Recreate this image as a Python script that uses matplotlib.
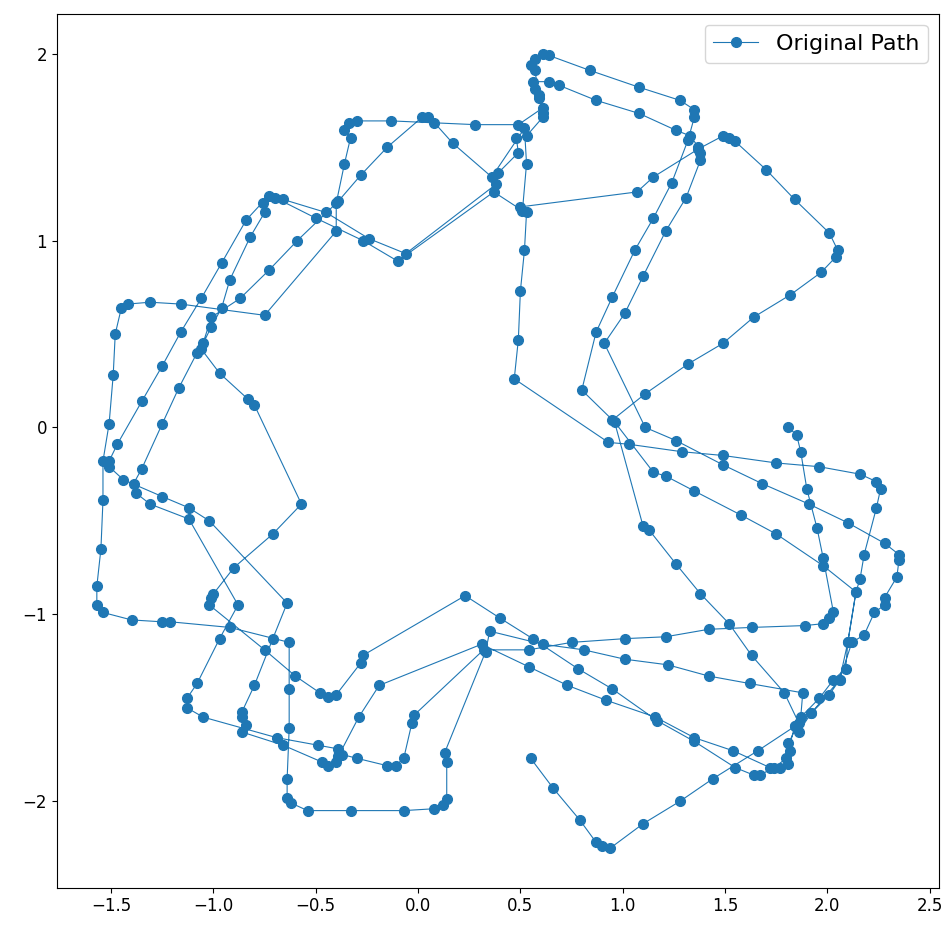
import matplotlib
matplotlib.use("Agg")
import matplotlib.pyplot as plt

# Path pieces (data units), in drawing order
seg01 = [(0.55,-1.77),(0.66,-1.93),(0.79,-2.10),(0.87,-2.22),(0.90,-2.24),(0.94,-2.25),(1.10,-2.12),(1.28,-2.00),(1.44,-1.88),(1.66,-1.73),(1.84,-1.60)]
seg02 = [(1.86,-1.63),(1.92,-1.53),(2.01,-1.43),(2.06,-1.35),(2.12,-1.15),(2.18,-1.11),(2.23,-0.99),(2.28,-0.95),(2.28,-0.91),(2.34,-0.80),(2.35,-0.71),(2.35,-0.68),(2.28,-0.62),(2.10,-0.51),(1.91,-0.41),(1.68,-0.30),(1.49,-0.20),(1.26,-0.07),(1.11,0.00),(0.91,0.45),(1.01,0.61),(1.10,0.81),(1.21,1.05),(1.31,1.23),(1.38,1.43),(1.38,1.47),(1.37,1.50)]
seg03 = [(1.33,1.56),(1.26,1.59),(1.08,1.68),(0.87,1.75),(0.69,1.83),(0.64,1.85)]
seg04 = [(0.56,1.85),(0.57,1.81),(0.59,1.78),(0.59,1.76),(0.61,1.71),(0.49,1.62)]
seg05 = [(0.28,1.62),(-0.13,1.64),(-0.30,1.64),(-0.34,1.63),(-0.36,1.59),(-0.33,1.55),(-0.36,1.41),(-0.40,1.20),(-0.40,1.05),(-0.75,0.60),(-1.16,0.66),(-1.31,0.67),(-1.42,0.66),(-1.45,0.64),(-1.48,0.50),(-1.49,0.28),(-1.51,0.02),(-1.54,-0.18),(-1.54,-0.39),(-1.55,-0.65),(-1.57,-0.85),(-1.57,-0.95),(-1.54,-0.99),(-1.40,-1.03),(-1.25,-1.04),(-1.21,-1.04),(-0.92,-1.07),(-0.63,-1.15),(-0.63,-1.40),(-0.63,-1.61),(-0.64,-1.88),(-0.64,-1.98),(-0.62,-2.01),(-0.54,-2.05),(-0.33,-2.05),(-0.07,-2.05),(0.08,-2.04),(0.12,-2.02),(0.14,-1.99),(0.14,-1.79),(0.13,-1.74),(0.33,-1.20)]
seg06 = [(0.35,-1.09),(0.61,-1.16),(0.81,-1.19),(1.01,-1.24),(1.22,-1.27),(1.42,-1.33),(1.62,-1.37),(1.88,-1.42)]
seg07 = [(1.87,-1.55),(1.96,-1.45),(2.03,-1.35),(2.09,-1.29),(2.10,-1.15),(2.14,-0.88),(2.16,-0.81),(2.18,-0.68),(2.24,-0.43),(2.26,-0.33),(2.24,-0.29),(2.16,-0.25),(1.96,-0.21),(1.75,-0.19),(1.49,-0.15),(1.29,-0.13),(1.03,-0.09),(0.93,-0.08),(0.47,0.26),(0.49,0.47),(0.50,0.73),(0.52,0.95),(0.53,1.15),(0.50,1.18)]
seg08 = [(1.07,1.26),(1.15,1.34),(1.37,1.49)]
seg09 = [(1.49,1.56),(1.52,1.55),(1.55,1.53),(1.70,1.38),(1.84,1.22),(2.01,1.04),(2.05,0.95),(2.04,0.91),(1.97,0.83),(1.82,0.71),(1.64,0.59),(1.49,0.45),(1.32,0.34),(1.11,0.18),(0.95,0.04)]
seg10 = [(0.80,0.20),(0.87,0.51),(0.95,0.70),(1.06,0.95),(1.15,1.12),(1.24,1.31),(1.32,1.54),(1.35,1.66),(1.35,1.70),(1.28,1.75),(1.08,1.82),(0.84,1.91),(0.64,1.99),(0.61,2.00),(0.57,1.97),(0.55,1.94),(0.57,1.91)]
seg11 = [(0.61,1.68),(0.61,1.66),(0.53,1.56)]
seg12 = [(0.48,1.55),(0.49,1.47),(0.39,1.36)]
seg13 = [(0.38,1.30),(-0.06,0.93),(-0.24,1.01),(-0.45,1.15),(-0.66,1.22)]
seg14 = [(-0.73,1.24),(-0.84,1.11),(-0.96,0.88),(-1.06,0.69),(-1.16,0.51),(-1.25,0.33),(-1.35,0.14),(-1.47,-0.09),(-1.51,-0.18),(-1.51,-0.21),(-1.44,-0.28),(-1.25,-0.37),(-1.12,-0.43),(-1.02,-0.50),(-0.64,-0.94),(-0.71,-1.13),(-0.80,-1.38),(-0.86,-1.52),(-0.86,-1.55),(-0.84,-1.59),(-0.86,-1.63),(-0.66,-1.70),(-0.47,-1.79),(-0.44,-1.81),(-0.40,-1.79),(-0.39,-1.76),(-0.29,-1.55),(-0.19,-1.38),(0.31,-1.16)]
seg15 = [(0.54,-1.28),(0.73,-1.38),(0.92,-1.46),(1.16,-1.55),(1.35,-1.66),(1.54,-1.73),(1.72,-1.82),(1.77,-1.82),(1.81,-1.80),(1.82,-1.73),(1.81,-1.69),(1.86,-1.58)]
seg16 = [(1.79,-1.42),(1.63,-1.22),(1.52,-1.05),(1.38,-0.89),(1.26,-0.73),(1.13,-0.55),(1.10,-0.53),(0.96,0.03)]
seg17 = [(1.15,-0.24),(1.21,-0.26),(1.35,-0.34),(1.58,-0.47),(1.75,-0.57),(1.98,-0.74),(2.14,-0.88),(2.10,-1.15),(2.06,-1.35),(1.92,-1.53),(1.84,-1.60)]
seg18 = [(1.80,-1.77),(1.74,-1.82),(1.67,-1.86),(1.64,-1.86),(1.55,-1.82),(1.35,-1.68),(1.17,-1.57),(0.95,-1.40),(0.78,-1.29),(0.56,-1.13),(0.40,-1.02),(0.23,-0.90),(-0.27,-1.22),(-0.28,-1.26),(-0.40,-1.43),(-0.44,-1.44),(-0.48,-1.42),(-0.60,-1.33),(-0.75,-1.19),(-1.02,-0.95),(-1.01,-0.91),(-1.00,-0.89),(-0.90,-0.75),(-0.71,-0.57),(-0.57,-0.41),(-0.80,0.12),(-0.83,0.15),(-0.97,0.29),(-1.06,0.42)]
seg19 = [(-1.01,0.59),(-0.87,0.69),(-0.73,0.84),(-0.59,1.00),(-0.39,1.21),(-0.28,1.35),(-0.15,1.50),(0.02,1.66),(0.05,1.66),(0.08,1.63),(0.17,1.52),(0.36,1.34)]
seg20 = [(0.52,1.60),(0.53,1.41),(0.51,1.16),(0.37,1.26)]
seg21 = [(-0.10,0.89),(-0.27,1.00),(-0.50,1.12),(-0.70,1.23)]
seg22 = [(-0.76,1.20),(-0.75,1.15),(-0.82,1.02),(-0.92,0.79),(-0.96,0.64),(-1.01,0.54),(-1.05,0.45)]
seg23 = [(-1.08,0.40),(-1.17,0.21),(-1.25,0.02),(-1.35,-0.22),(-1.39,-0.30),(-1.38,-0.35),(-1.31,-0.41),(-1.12,-0.49),(-0.88,-0.95),(-0.97,-1.13),(-1.08,-1.37),(-1.13,-1.45),(-1.13,-1.50),(-1.05,-1.55),(-0.69,-1.66),(-0.49,-1.70),(-0.39,-1.72),(-0.37,-1.75),(-0.30,-1.77),(-0.15,-1.81),(-0.11,-1.81),(-0.07,-1.77),(-0.03,-1.58),(-0.02,-1.54),(0.32,-1.19)]
seg24 = [(0.54,-1.19),(0.75,-1.15),(1.01,-1.13),(1.21,-1.12),(1.42,-1.08),(1.63,-1.07),(1.89,-1.06),(1.98,-1.05),(2.01,-1.02),(2.03,-0.99),(1.98,-0.70),(1.95,-0.54),(1.90,-0.33),(1.87,-0.13),(1.85,-0.04),(1.81,0.00)]

segments = [seg01, seg02, seg03, seg04, seg05, seg06, seg07, seg08, seg09, seg10, seg11, seg12,
            seg13, seg14, seg15, seg16, seg17, seg18, seg19, seg20, seg21, seg22, seg23, seg24]

path_x = [p[0] for s in segments for p in s]
path_y = [p[1] for s in segments for p in s]

fig = plt.figure(figsize=(9.47, 9.27), dpi=100)
ax = fig.add_axes([0.0599, 0.0424, 0.9317, 0.9426])
ax.plot(path_x, path_y, marker='o', linestyle='-', color='#1f77b4',
        markersize=7, linewidth=0.8, label='Original Path')
ax.tick_params(labelsize=12)
ax.legend(loc='upper right', fontsize=16)
fig.savefig('out.png', dpi=100)
